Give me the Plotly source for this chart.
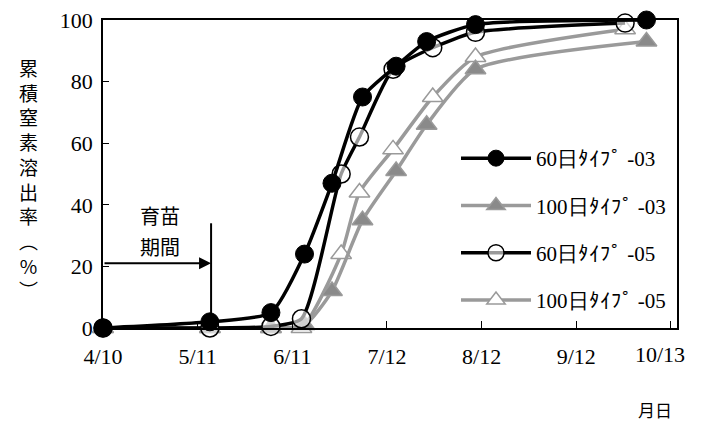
import plotly.graph_objects as go

# Days since 4/10
tick_days = [0, 31, 62, 93, 124, 155, 186]
tick_labels = ["4/10", "5/11", "6/11", "7/12", "8/12", "9/12", "10/13"]

days_03 = [0, 35, 55, 66, 75, 85, 96, 106, 122, 178]
days_05 = [0, 35, 55, 65, 78, 84, 95, 108, 122, 171]

v60_03 = [0, 2, 5, 24, 47, 75, 85, 93, 98.5, 100]
v100_03 = [0, 0, 0, 1, 12, 35, 51, 66, 84, 93]
v60_05 = [0, 0, 0.5, 3, 50, 62, 84, 91, 96, 99]
v100_05 = [0, 0, 0, 0, 24, 44, 58, 75, 88, 97]

names = ["60日ﾀｲﾌﾟ -03", "100日ﾀｲﾌﾟ -03", "60日ﾀｲﾌﾟ -05", "100日ﾀｲﾌﾟ -05"]

serif = "Liberation Serif"
BLACK = "#000000"
GREY = "#9a9a9a"
GREYF = "#8a8a8a"

# page body margin (8px) is compensated in the figure size / margins
W, H = 702, 415
L, R, T, B = 95, 33, 12, 95
PW, PH = W - L - R, H - T - B


def px_x(x):  # reference pixel -> paper x
    return (x - 8 - L) / PW


def px_y(y):  # reference pixel -> paper y
    return (H - B - (y - 8)) / PH


fig = go.Figure()

fig.add_trace(go.Scatter(x=days_05, y=v100_05, name=names[3], mode="lines+markers",
                         line=dict(color=GREY, width=3.5, shape="spline", smoothing=0.6),
                         marker=dict(symbol="triangle-up", size=18, color="white",
                                     line=dict(color=GREY, width=1.5)),
                         cliponaxis=False, legendgroup="d", legendrank=4))
fig.add_trace(go.Scatter(x=days_03, y=v100_03, name=names[1], mode="lines+markers",
                         line=dict(color=GREY, width=3.5, shape="spline", smoothing=0.6),
                         marker=dict(symbol="triangle-up", size=18, color=GREYF,
                                     line=dict(color=GREY, width=1.5)),
                         cliponaxis=False, legendgroup="b", legendrank=2))
fig.add_trace(go.Scatter(x=days_05, y=v60_05, name=names[2], mode="lines+markers",
                         line=dict(color=BLACK, width=3.5, shape="spline", smoothing=0.6),
                         marker=dict(symbol="circle", size=18, color="rgba(255,255,255,0.6)",
                                     line=dict(color=BLACK, width=1.5)),
                         cliponaxis=False, legendgroup="c", legendrank=3))
fig.add_trace(go.Scatter(x=days_03, y=v60_03, name=names[0], mode="lines+markers",
                         line=dict(color=BLACK, width=3.5, shape="spline", smoothing=0.6),
                         marker=dict(symbol="circle", size=18, color=BLACK,
                                     line=dict(color=BLACK, width=1)),
                         cliponaxis=False, legendgroup="a", legendrank=1))

# nursery period marker
fig.add_shape(type="line", x0=35.4, x1=35.4, y0=0, y1=34, xref="x", yref="y",
              line=dict(color=BLACK, width=2))
fig.add_annotation(x=35.4, y=21, ax=0, ay=21, xref="x", yref="y", axref="x", ayref="y",
                   showarrow=True, arrowhead=2, arrowsize=1.2, arrowwidth=2,
                   arrowcolor=BLACK, text="")


def note(txt, x, y, size, family):
    fig.add_annotation(x=px_x(x), y=px_y(y), xref="paper", yref="paper", text=txt,
                       xanchor="center", yanchor="middle", showarrow=False,
                       align="center", font=dict(family=family, size=size, color=BLACK))


CJK = "Noto Sans CJK JP"
note("育苗", 160, 215, 20, CJK)
note("期間", 160, 246, 20, CJK)
# last tick label (shifted left as in the reference)
note(tick_labels[-1], 660, 355, 22, serif)
# x axis title
note("月日", 655, 409, 17, CJK)
# y axis title (vertical)
note("<br>".join(list("累積窒素溶出率") + ["︵", "%", "︶"]), 28, 178, 19, CJK)

fig.update_layout(
    width=W, height=H,
    margin=dict(l=L, r=R, t=T, b=B, autoexpand=False),
    paper_bgcolor="white", plot_bgcolor="white",
    showlegend=True,
    legend=dict(x=px_x(456), y=px_y(138), xanchor="left", yanchor="top",
                bgcolor="white", borderwidth=0, tracegroupgap=17,
                font=dict(family=serif, size=21, color=BLACK),
                itemwidth=70),
    xaxis=dict(range=[0, 188], tickvals=tick_days,
               ticktext=tick_labels[:-1] + [""],
               ticks="inside", ticklen=7, tickcolor=BLACK, automargin=False,
               showline=True, linecolor=BLACK, linewidth=1.5, mirror=True,
               showgrid=False, zeroline=False, ticklabelstandoff=8,
               ticklabeloverflow="allow",
               tickfont=dict(family=serif, size=22, color=BLACK)),
    yaxis=dict(range=[0, 100], tickvals=[0, 20, 40, 60, 80, 100],
               ticks="inside", ticklen=6, tickcolor=BLACK, automargin=False,
               showline=True, linecolor=BLACK, linewidth=1.5, mirror=True,
               showgrid=False, zeroline=False, ticklabelstandoff=4,
               ticklabeloverflow="allow",
               tickfont=dict(family=serif, size=22, color=BLACK)),
)

fig.write_html("out.html")
